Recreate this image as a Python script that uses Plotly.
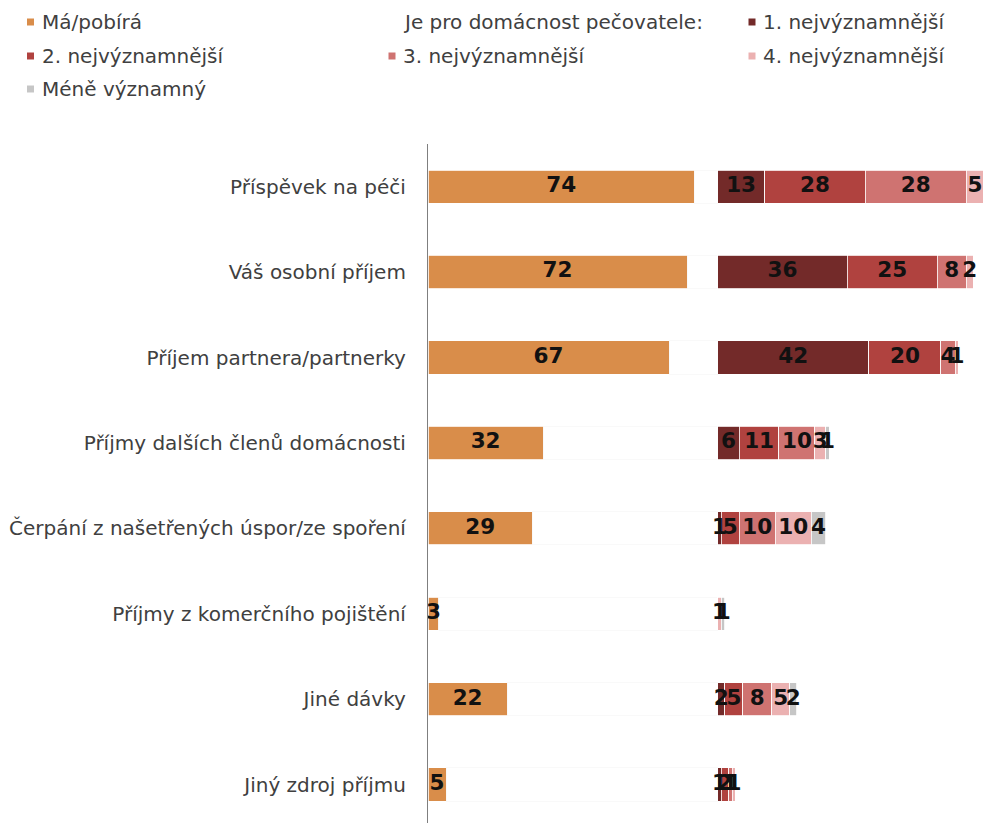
import plotly.graph_objects as go

# Categories (top to bottom)
categories = [
    "Příspěvek na péči",
    "Váš osobní příjem",
    "Příjem partnera/partnerky",
    "Příjmy dalších členů domácnosti",
    "Čerpání z našetřených úspor/ze spoření",
    "Příjmy z komerčního pojištění",
    "Jiné dávky",
    "Jiný zdroj příjmu",
]

# Share of households that have / receive the income source (%)
ma_pobira = [74, 72, 67, 32, 29, 3, 22, 5]

# Importance of the source for the caregiver's household (%)
prvni = [13, 36, 42, 6, 1, 0, 2, 1]
druhy = [28, 25, 20, 11, 5, 0, 5, 2]
treti = [28, 8, 4, 10, 10, 0, 8, 1]
ctvrty = [5, 2, 1, 3, 10, 1, 5, 1]
mene = [0, 0, 0, 1, 4, 1, 2, 0]

importance_series = [
    ("1. nejvýznamnější", prvni, "#732A29"),
    ("2. nejvýznamnější", druhy, "#B0423F"),
    ("3. nejvýznamnější", treti, "#CF7371"),
    ("4. nejvýznamnější", ctvrty, "#EBB1B1"),
    ("Méně významný", mene, "#C6C6C6"),
]

ORANGE = "#D98D4A"
OFFSET = 80.5          # where the importance block starts on the x scale
X_MAX = 154.2
FONT = "DejaVu Sans, Verdana, sans-serif"
TEXT_GREY = "#404040"

W, H = 983, 823
ML, MT = 428, 144
PW, PH = W - ML, H - MT

fig = go.Figure()

bar_common = dict(orientation="h", y=categories, showlegend=False, hoverinfo="skip")

fig.add_trace(go.Bar(x=ma_pobira, marker=dict(color=ORANGE, line=dict(color="white", width=0.8)),
                     name="Má/pobírá", **bar_common))
# white spacer that pushes the importance block to a common start
spacer = [OFFSET - v for v in ma_pobira]
fig.add_trace(go.Bar(x=spacer, marker=dict(color="white", line=dict(color="#F8F8F8", width=0.8)),
                     name="Je pro domácnost pečovatele:", **bar_common))
for name, vals, col in importance_series:
    fig.add_trace(go.Bar(x=vals, marker=dict(color=col, line=dict(color="white", width=0.8)),
                         name=name, **bar_common))

# value labels centred on each segment
label_font = dict(family=FONT, size=21.5, color="#111111")


def add_labels(starts, vals):
    xs, ys, ts = [], [], []
    for c, s, v in zip(categories, starts, vals):
        if v > 0:
            xs.append(s + v / 2)
            ys.append(c)
            ts.append(f"<b>{v}</b>")
    fig.add_trace(go.Scatter(x=xs, y=ys, text=ts, mode="text", textposition="middle center",
                             textfont=label_font, showlegend=False, hoverinfo="skip",
                             cliponaxis=False))


add_labels([0] * len(categories), ma_pobira)
base = [OFFSET] * len(categories)
for name, vals, col in importance_series:
    add_labels(base, vals)
    base = [b + v for b, v in zip(base, vals)]

fig.update_layout(
    width=W, height=H,
    margin=dict(l=ML, r=W - ML - PW, t=MT, b=H - MT - PH, pad=0),
    barmode="stack",
    bargap=0.61,
    plot_bgcolor="white",
    paper_bgcolor="white",
    showlegend=False,
    font=dict(family=FONT, size=20, color=TEXT_GREY),
)
fig.update_xaxes(range=[0, X_MAX], visible=False, showgrid=False, zeroline=False)
fig.update_yaxes(type="category", categoryorder="array", categoryarray=categories,
                 range=[len(categories) - 0.55, -0.5], showgrid=False, zeroline=False,
                 showline=True, linecolor="#7F7F7F", linewidth=1.2, ticks="",
                 ticklabelstandoff=17, tickfont=dict(family=FONT, size=20, color=TEXT_GREY))

# legend drawn as small squares with text, three columns
legend_items = [
    ("Má/pobírá", ORANGE, 30.5, 22),
    ("Je pro domácnost pečovatele:", "white", 392, 22),
    ("1. nejvýznamnější", importance_series[0][2], 752, 22),
    ("2. nejvýznamnější", importance_series[1][2], 30.5, 56),
    ("3. nejvýznamnější", importance_series[2][2], 392, 56),
    ("4. nejvýznamnější", importance_series[3][2], 752, 56),
    ("Méně významný", importance_series[4][2], 30.5, 89),
]


def px_x(px):
    return (px - ML) / PW


def px_y(py):
    return (H - py - (H - MT - PH)) / PH


for text, col, cx, cy in legend_items:
    half = 3.5
    fig.add_shape(type="rect", xref="paper", yref="paper",
                  x0=px_x(cx - half), x1=px_x(cx + half),
                  y0=px_y(cy + half), y1=px_y(cy - half),
                  fillcolor=col, line=dict(width=0), layer="above")
    fig.add_annotation(text=text, xref="paper", yref="paper", x=px_x(cx + 9), y=px_y(cy),
                       xanchor="left", yanchor="middle", showarrow=False,
                       font=dict(family=FONT, size=20, color=TEXT_GREY))

fig.write_html("out.html")
